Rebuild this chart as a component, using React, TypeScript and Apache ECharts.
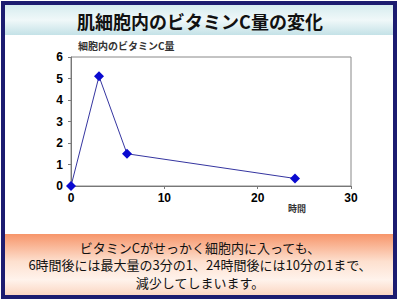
import React, { useEffect, useRef } from "react";
import * as echarts from "echarts";

const hours = [0, 3, 6, 24];
const vitaminC = [0, 5.1, 1.5, 0.35];
const xTicks = [0, 10, 20, 30];
const yTicks = [0, 1, 2, 3, 4, 5, 6];
const titleText = "肌細胞内のビタミンC量の変化";
const yAxisTitle = "細胞内のビタミンC量";
const xAxisTitle = "時間";
const noteLines = [
  "ビタミンCがせっかく細胞内に入っても、",
  "6時間後には最大量の3分の1、24時間後には10分の1まで、",
  "減少してしまいます。",
];

const JP = '"Noto Sans CJK JP", "Noto Sans", sans-serif';
const NUM = '"Liberation Sans", Arial, sans-serif';

export default function App() {
  const ref = useRef<HTMLDivElement>(null);
  useEffect(() => {
    if (!ref.current) return;
    const chart = echarts.init(ref.current, null, { renderer: "svg" });
    const data = hours.map((h, i) => [h, vitaminC[i]]);
    chart.setOption({
      animation: false,
      backgroundColor: "#ffffff",
      grid: { left: 71, right: 49, top: 57, bottom: 117, show: true, borderColor: "#888888", borderWidth: 1 },
      xAxis: {
        type: "value",
        min: xTicks[0],
        max: xTicks[xTicks.length - 1],
        interval: 10,
        axisLine: { show: true, lineStyle: { color: "#777777", width: 1 } },
        axisTick: { show: true, length: 3, lineStyle: { color: "#777777" } },
        axisLabel: { color: "#000", fontFamily: NUM, fontWeight: "bold", fontSize: 12, margin: 6 },
        splitLine: { show: false },
      },
      yAxis: {
        type: "value",
        min: yTicks[0],
        max: yTicks[yTicks.length - 1],
        interval: 1,
        axisLine: { show: true, lineStyle: { color: "#777777", width: 1 } },
        axisTick: { show: true, length: 3, lineStyle: { color: "#777777" } },
        axisLabel: { color: "#000", fontFamily: NUM, fontWeight: "bold", fontSize: 12, margin: 8 },
        splitLine: { show: false },
      },
      series: [
        {
          type: "line",
          data,
          symbol: "diamond",
          symbolSize: 10,
          lineStyle: { color: "#3535a0", width: 1 },
          itemStyle: { color: "#0a0ad0" },
        },
      ],
      graphic: [
        {
          type: "rect",
          silent: true,
          shape: { x: 5, y: 5, width: 388, height: 30 },
          style: {
            fill: new echarts.graphic.LinearGradient(0, 0, 0, 1, [
              { offset: 0, color: "#d6ecef" },
              { offset: 0.5, color: "#f0f8f9" },
              { offset: 1, color: "#c4e2e7" },
            ]),
          },
          z: 0,
        },
        {
          type: "rect",
          silent: true,
          shape: { x: 5, y: 234, width: 388, height: 61 },
          style: {
            fill: new echarts.graphic.LinearGradient(0, 0, 0, 1, [
              { offset: 0, color: "#f7956a" },
              { offset: 0.45, color: "#fde0cf" },
              { offset: 0.75, color: "#fff3ec" },
              { offset: 1, color: "#fbd6c2" },
            ]),
          },
          z: 0,
        },
        {
          type: "rect",
          silent: true,
          shape: { x: 3, y: 3, width: 392, height: 294 },
          style: { fill: "none", stroke: "#1c1c70", lineWidth: 4 },
          z: 10,
        },
        {
          type: "text",
          x: 200,
          y: 21,
          style: {
            text: titleText,
            fontFamily: JP,
            fontWeight: "bold",
            fontSize: 18,
            fill: "#111",
            align: "center",
            verticalAlign: "middle",
          },
          z: 5,
        },
        {
          type: "text",
          x: 78,
          y: 45,
          style: {
            text: yAxisTitle,
            fontFamily: JP,
            fontWeight: "bold",
            fontSize: 10,
            fill: "#333",
            align: "left",
            verticalAlign: "middle",
          },
          z: 5,
        },
        {
          type: "text",
          x: 297,
          y: 208,
          style: {
            text: xAxisTitle,
            fontFamily: JP,
            fontWeight: "bold",
            fontSize: 9,
            fill: "#333",
            align: "center",
            verticalAlign: "middle",
          },
          z: 5,
        },
        {
          type: "text",
          x: 200,
          y: 264.5,
          style: {
            text: noteLines.join("\n"),
            fontFamily: JP,
            fontSize: 13,
            lineHeight: 17.5,
            fill: "#111",
            align: "center",
            verticalAlign: "middle",
          },
          z: 5,
        },
      ],
    });
    return () => chart.dispose();
  }, []);
  return (
    <div
      ref={ref}
      style={{ position: "absolute", left: 0, top: 0, width: 400, height: 303 }}
    />
  );
}
